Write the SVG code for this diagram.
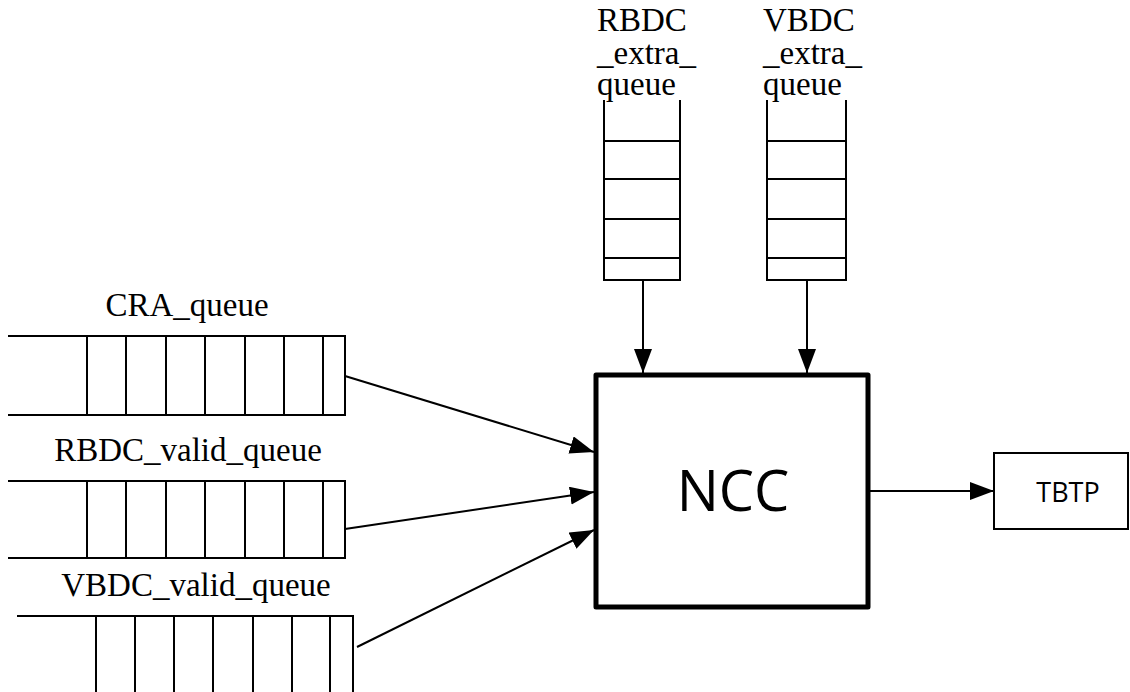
<svg xmlns="http://www.w3.org/2000/svg" width="1130" height="692" viewBox="0 0 1130 692">
  <style>
    .ln { stroke: #000; stroke-width: 2; fill: none; }
    .serif { font-family: "Liberation Serif", "Times New Roman", serif; font-size: 33px; fill: #000; }
    .sans { font-family: "Open Sans", "Liberation Sans", sans-serif; fill: #000; }
  </style>
  <defs>
    <marker id="arrow" markerUnits="userSpaceOnUse" markerWidth="26" markerHeight="20" refX="24" refY="9" orient="auto">
      <path d="M0,0 L24,9 L0,18 Z" fill="#000"/>
    </marker>
  </defs>
  <rect width="1130" height="692" fill="#fff"/>

  <!-- horizontal queue: CRA -->
  <g id="cra_queue">
    <text class="serif" x="187" y="316" text-anchor="middle">CRA_queue</text>
    <path class="ln" d="M8,336 H345 V415 H8 M87,336 V415 M126,336 V415 M166,336 V415 M205,336 V415 M245,336 V415 M284,336 V415 M323,336 V415"/>
  </g>

  <!-- horizontal queue: RBDC valid -->
  <g id="rbdc_valid_queue">
    <text class="serif" x="188" y="461" text-anchor="middle">RBDC_valid_queue</text>
    <path class="ln" d="M8,481 H345 V558 H8 M87,481 V558 M126,481 V558 M166,481 V558 M205,481 V558 M245,481 V558 M284,481 V558 M323,481 V558"/>
  </g>

  <!-- horizontal queue: VBDC valid (runs off the bottom edge) -->
  <g id="vbdc_valid_queue">
    <text class="serif" x="196" y="596" text-anchor="middle">VBDC_valid_queue</text>
    <path class="ln" d="M17,616 H353 V700 M96,616 V700 M135,616 V700 M174,616 V700 M213,616 V700 M253,616 V700 M292,616 V700 M330,616 V700"/>
  </g>

  <!-- vertical queue: RBDC extra -->
  <g id="rbdc_extra_queue">
    <text class="serif" x="597" y="31">RBDC</text>
    <text class="serif" x="597" y="64">_extra_</text>
    <text class="serif" x="597" y="95">queue</text>
    <path class="ln" d="M604,100 V280 H680 V100 M604,141 H680 M604,179 H680 M604,219 H680 M604,258 H680"/>
  </g>

  <!-- vertical queue: VBDC extra -->
  <g id="vbdc_extra_queue">
    <text class="serif" x="763" y="31">VBDC</text>
    <text class="serif" x="763" y="64">_extra_</text>
    <text class="serif" x="763" y="95">queue</text>
    <path class="ln" d="M767,100 V280 H846 V100 M767,141 H846 M767,179 H846 M767,219 H846 M767,258 H846"/>
  </g>

  <!-- scheduler block -->
  <g id="ncc">
    <rect x="596" y="375" width="272" height="232" fill="#fff" stroke="#000" stroke-width="5" stroke-linejoin="round"/>
    <text class="sans" x="733" y="511" font-size="56" text-anchor="middle">NCC</text>
  </g>

  <!-- output block -->
  <g id="tbtp">
    <rect x="994" y="453" width="134" height="76" fill="#fff" stroke="#000" stroke-width="2"/>
    <text class="sans" x="1068" y="502" font-size="27" text-anchor="middle">TBTP</text>
  </g>

  <!-- connectors -->
  <g id="connectors" class="ln" marker-end="url(#arrow)">
    <line x1="643" y1="281" x2="643" y2="373"/>
    <line x1="807" y1="281" x2="807" y2="373"/>
    <line x1="345" y1="376" x2="594" y2="452"/>
    <line x1="345" y1="529" x2="594" y2="492"/>
    <line x1="357" y1="647" x2="594" y2="530"/>
    <line x1="869" y1="491" x2="994" y2="491"/>
  </g>
</svg>
